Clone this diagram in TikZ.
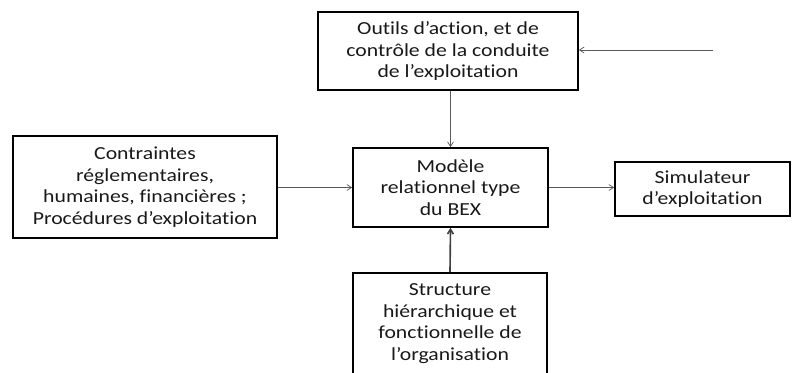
\documentclass[tikz,border=0pt]{standalone}
\usepackage{fontspec}
\setmainfont{Carlito}[FakeStretch=1.18, Ligatures=NoCommon]
\usetikzlibrary{arrows.meta}

\begin{document}
\begin{tikzpicture}[bloc/.style = {draw = black,
					 line width = 1.4pt,
					 shape = rectangle,
					 inner sep = 0pt,
					 align = center,
					 text = black!90,
					 font = \fontsize{15.7}{18.4}\selectfont},
				lien/.style = {draw = black!65,
					 line width = 0.6pt,
					 -{Straight Barb[length = 4pt, width = 5pt]}}]

	\useasboundingbox (0,0) rectangle (23.91,-11.16);
	\clip (0,0) rectangle (23.91,-11.16);

	\draw (13.44,-1.53) node[bloc,
					 minimum width = 7.8cm,
					 minimum height = 2.34cm] (outils) {Outils d'action, et de\\contrôle de la conduite\\de l'exploitation};

	\draw (13.515,-5.625) node[bloc,
					 minimum width = 5.85cm,
					 minimum height = 2.37cm] (modele) {Modèle\\relationnel type\\du BEX};

	\draw (4.35,-5.61) node[bloc,
					 minimum width = 7.92cm,
					 minimum height = 3.06cm] (contraintes) {Contraintes\\réglementaires,\\humaines, financières ;\\Procédures d'exploitation};

	\draw (21.075,-5.67) node[bloc,
					 minimum width = 5.25cm,
					 minimum height = 1.62cm] (simul) {Simulateur\\d'exploitation};

	\draw (13.5,-9.705) node[bloc,
					 minimum width = 5.82cm,
					 minimum height = 3.03cm] (structure) {Structure\\hiérarchique et\\fonctionnelle de\\l'organisation};

	\coordinate (entree) at (21.39,-1.5);

	\draw[lien] (entree) -- (outils.east |- entree);
	\draw[lien] (outils.south -| modele.north) -- (modele.north);
	\draw[lien] (contraintes.east |- modele.west) -- (modele.west);
	\draw[lien] (modele.east) -- (simul.west |- modele.east);
	\draw[lien, line width = 1.4pt, draw = black!75] (structure.north) -- (modele.south);
\end{tikzpicture}
\end{document}
